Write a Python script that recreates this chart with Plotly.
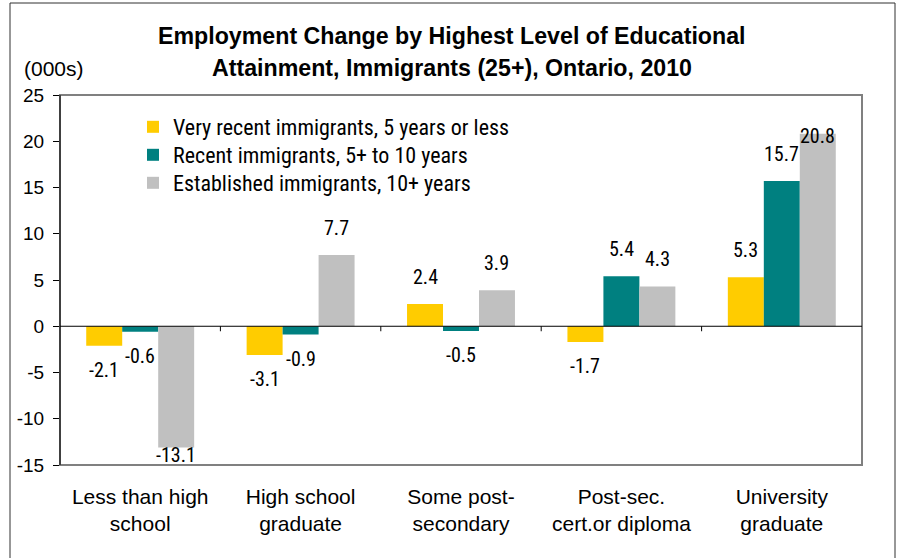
import plotly.graph_objects as go

# Employment change (thousands) by education level, immigrants 25+, Ontario 2010
categories = [
    "Less than high<br>school",
    "High school<br>graduate",
    "Some post-<br>secondary",
    "Post-sec.<br>cert.or diploma",
    "University<br>graduate",
]
series_names = [
    "Very recent immigrants, 5 years or less",
    "Recent immigrants, 5+ to 10 years",
    "Established immigrants, 10+ years",
]
very_recent = [-2.1, -3.1, 2.4, -1.7, 5.3]
recent = [-0.6, -0.9, -0.5, 5.4, 15.7]
established = [-13.1, 7.7, 3.9, 4.3, 20.8]
series_values = [very_recent, recent, established]
series_colors = ["#FFCC00", "#008080", "#C0C0C0"]

y_min, y_max = -15, 25
y_ticks = list(range(y_min, y_max + 1, 5))

W, H = 898, 558
ML, MR, MT, MB = 60, 36, 95, 93
plot_w = W - ML - MR
plot_h = H - MT - MB
px_per_unit = plot_h / (y_max - y_min)

BAR_GAP = 0.327
n_series = len(series_values)
bar_w = (1 - BAR_GAP) / n_series

NARROW = "Liberation Sans Narrow, Arial Narrow, Roboto Condensed, sans-serif"
ARIAL = "Liberation Sans, Arial, sans-serif"


def px_to_paper_x(px):
    return (px - ML) / plot_w


def px_to_paper_y(py):
    return (H - MB - py) / plot_h


legend_ids = ["legend", "legend2", "legend3"]
legend_rows_px = [127, 155, 183]

fig = go.Figure()
for name, vals, color, lid in zip(series_names, series_values, series_colors, legend_ids):
    fig.add_trace(go.Bar(
        x=categories, y=vals, name=name, legend=lid,
        marker=dict(color=color, line=dict(width=0)),
        hoverinfo="skip",
    ))

# value labels placed outside the bar end, kept inside the plot area
annotations = []
pos_gap_px = 13
neg_gap_px = 10
top_limit = y_max - 3.0
for k, vals in enumerate(series_values):
    for i, v in enumerate(vals):
        xpos = i + (k - (n_series - 1) / 2) * bar_w
        if v >= 0:
            needed = v + (pos_gap_px + 22) / px_per_unit
            if needed > top_limit:
                y, anchor, shift = top_limit, "top", 1
            else:
                y, anchor, shift = v, "bottom", pos_gap_px
        else:
            needed = v - (neg_gap_px + 22) / px_per_unit
            if needed < y_min:
                y, anchor, shift = y_min, "bottom", -4
            else:
                y, anchor, shift = v, "top", -neg_gap_px
        annotations.append(dict(
            x=xpos, y=y, xref="x", yref="y", text=f"{v:.1f}",
            showarrow=False, yanchor=anchor, xanchor="center", yshift=shift,
            font=dict(family=NARROW, size=20, color="#000000"),
        ))

# title and unit label
title_lines = [
    "Employment Change by Highest Level of Educational",
    "Attainment, Immigrants (25+), Ontario, 2010",
]
for line, ycen in zip(title_lines, [36, 68]):
    annotations.append(dict(
        x=px_to_paper_x(452), y=px_to_paper_y(ycen), xref="paper", yref="paper",
        text=f"<b>{line}</b>", showarrow=False, xanchor="center", yanchor="middle",
        font=dict(family=ARIAL, size=23.2, color="#000000"),
    ))
annotations.append(dict(
    x=px_to_paper_x(54), y=px_to_paper_y(68), xref="paper", yref="paper",
    text="(000s)", showarrow=False, xanchor="center", yanchor="middle",
    font=dict(family=ARIAL, size=21, color="#000000"),
))

shapes = []
# outer chart border
shapes.append(dict(
    type="rect", xref="paper", yref="paper",
    x0=px_to_paper_x(10), x1=px_to_paper_x(895),
    y0=px_to_paper_y(562), y1=px_to_paper_y(3),
    line=dict(color="#303030", width=1), fillcolor="rgba(0,0,0,0)", layer="below",
))
# plot area frame
shapes.append(dict(
    type="rect", xref="paper", yref="paper", x0=0, x1=1, y0=0, y1=1,
    line=dict(color="#808080", width=2), fillcolor="rgba(0,0,0,0)", layer="above",
))
# left value axis line
shapes.append(dict(
    type="line", xref="paper", yref="paper", x0=0, x1=0, y0=0, y1=1,
    line=dict(color="#000000", width=1), layer="above",
))
# category axis at zero with boundary tick marks
shapes.append(dict(
    type="line", xref="paper", yref="y", x0=0, x1=1, y0=0, y1=0,
    line=dict(color="#000000", width=1), layer="above",
))
for b in range(1, len(categories)):
    shapes.append(dict(
        type="line", xref="x", yref="y", ysizemode="pixel", yanchor=0,
        x0=b - 0.5, x1=b - 0.5, y0=0, y1=-5,
        line=dict(color="#000000", width=1), layer="above",
    ))

legend_common = dict(
    xanchor="left", yanchor="middle",
    bgcolor="rgba(0,0,0,0)", borderwidth=0,
    font=dict(family=NARROW, size=22, color="#000000"),
    itemclick=False, itemdoubleclick=False,
)
legend_layouts = {
    lid: dict(x=px_to_paper_x(133), y=px_to_paper_y(row), **legend_common)
    for lid, row in zip(legend_ids, legend_rows_px)
}

fig.update_layout(
    width=W, height=H, autosize=False,
    margin=dict(l=ML, r=MR, t=MT, b=MB, pad=0),
    paper_bgcolor="white", plot_bgcolor="white",
    barmode="group", bargap=BAR_GAP, bargroupgap=0,
    font=dict(family=ARIAL, color="#000000"),
    showlegend=True,
    annotations=annotations,
    shapes=shapes,
    **legend_layouts,
)
fig.update_xaxes(
    showgrid=False, zeroline=False, showline=False, ticks="",
    tickfont=dict(family=ARIAL, size=21, color="#000000"),
    ticklabelstandoff=17,
)
fig.update_yaxes(
    range=[y_min, y_max], tickvals=y_ticks, ticktext=[str(t) for t in y_ticks],
    showgrid=False, zeroline=False, showline=False,
    ticks="outside", ticklen=6, tickcolor="#000000", tickwidth=1,
    tickfont=dict(family=ARIAL, size=19, color="#000000"),
    ticklabelstandoff=5,
)

fig.write_html("out.html")
